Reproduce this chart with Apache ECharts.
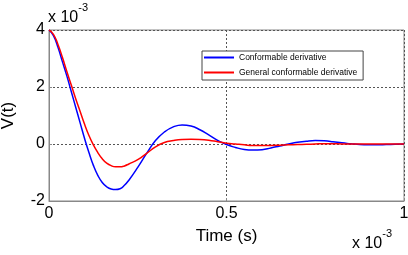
<!DOCTYPE html>
<html>
<head>
<meta charset="utf-8">
<script src="https://cdn.jsdelivr.net/npm/echarts@6/dist/echarts.min.js"></script>
<style>
  html, body { margin: 0; padding: 0; background: #fff; }
  #chart { width: 408px; height: 255px; }
</style>
</head>
<body>
<div id="chart"></div>
<script>
// time in units of 1e-3 s, voltage in units of 1e-3
var timeVals = [0, 0.0125, 0.025, 0.0375, 0.05, 0.0625, 0.075, 0.0875, 0.1, 0.1125,
  0.125, 0.1375, 0.15, 0.1625, 0.175, 0.1875, 0.2, 0.2125, 0.225, 0.25,
  0.275, 0.3, 0.325, 0.35, 0.375, 0.4, 0.425, 0.45, 0.475, 0.5,
  0.525, 0.55, 0.575, 0.6, 0.625, 0.65, 0.675, 0.7, 0.725, 0.75,
  0.775, 0.8, 0.825, 0.85, 0.875, 0.9, 0.925, 0.95, 0.975, 1.0]
var conformable = [4.0, 3.8, 3.4, 2.9, 2.4, 1.85, 1.3, 0.75, 0.2, -0.3,
  -0.75, -1.1, -1.35, -1.5, -1.58, -1.6, -1.57, -1.45, -1.27, -0.82,
  -0.33, 0.12, 0.42, 0.6, 0.67, 0.63, 0.5, 0.32, 0.13, -0.02,
  -0.12, -0.19, -0.21, -0.2, -0.14, -0.07, 0.0, 0.06, 0.1, 0.12,
  0.11, 0.08, 0.04, 0.01, -0.02, -0.03, -0.03, -0.02, -0.01, 0.0]
var general = [4.0, 3.85, 3.5, 3.05, 2.55, 2.08, 1.6, 1.15, 0.7, 0.3,
  -0.03, -0.3, -0.52, -0.67, -0.76, -0.8, -0.8, -0.77, -0.7, -0.55,
  -0.33, -0.1, 0.05, 0.12, 0.16, 0.17, 0.16, 0.13, 0.08, 0.03,
  0.0, -0.03, -0.05, -0.05, -0.05, -0.04, -0.03, -0.02, -0.01, 0.0,
  0.01, 0.01, 0.0, 0.0, 0.0, 0.0, 0.0, 0.0, 0.0, 0.0]
var seriesNames = ['Conformable derivative', 'General conformable derivative']

var font = 'Arial, "Liberation Sans", sans-serif'
var myChart = echarts.init(document.getElementById('chart'))

function pairs (ys) {
  return timeVals.map(function (t, i) { return [t, ys[i]] })
}

var dotted = { color: '#555', type: [2, 2], width: 1 }

var option = {
  animation: false,
  grid: {
    left: 49, right: 4, top: 30, bottom: 54,
    outerBoundsMode: 'none',
    containLabel: false,
    show: true, borderColor: '#888', borderWidth: 1
  },
  legend: {
    data: seriesNames,
    orient: 'vertical',
    left: 202, top: 51,
    icon: 'rect',
    itemWidth: 30, itemHeight: 2, itemGap: 6,
    padding: [2, 6, 3, 2],
    borderColor: '#444', borderWidth: 1,
    backgroundColor: '#fff',
    textStyle: { fontSize: 8.5, fontFamily: font, color: '#000' }
  },
  xAxis: {
    type: 'value', min: 0, max: 1, interval: 0.5,
    name: 'Time (s)', nameLocation: 'middle', nameGap: 27,
    nameTextStyle: { fontSize: 17, fontFamily: font, color: '#000' },
    axisLine: { show: true, onZero: false, lineStyle: { color: '#888' } },
    axisTick: { show: true, inside: true, length: 3, lineStyle: { color: '#888' } },
    axisLabel: { fontSize: 16, fontFamily: font, color: '#000', margin: 5 },
    splitLine: { show: true, lineStyle: dotted }
  },
  yAxis: {
    type: 'value', min: -2, max: 4, interval: 2,
    name: 'V(t)', nameLocation: 'middle', nameGap: 32,
    nameTextStyle: { fontSize: 17, fontFamily: font, color: '#000' },
    axisLine: { show: true, onZero: false, lineStyle: { color: '#888' } },
    axisTick: { show: true, inside: true, length: 3, lineStyle: { color: '#888' } },
    axisLabel: { fontSize: 16, fontFamily: font, color: '#000', margin: 4 },
    splitLine: { show: true, lineStyle: dotted }
  },
  graphic: [
    {
      type: 'text', left: 48, top: 2,
      style: {
        text: '{b|x 10}{s|-3}',
        rich: {
          b: { fontSize: 16, fontFamily: font, fill: '#000', padding: [8, 0, 0, 0] },
          s: { fontSize: 11, fontFamily: font, fill: '#000', verticalAlign: 'top' }
        }
      }
    },
    {
      type: 'text', left: 352, top: 228,
      style: {
        text: '{b|x 10}{s|-3}',
        rich: {
          b: { fontSize: 16, fontFamily: font, fill: '#000', padding: [8, 0, 0, 0] },
          s: { fontSize: 11, fontFamily: font, fill: '#000', verticalAlign: 'top' }
        }
      }
    }
  ],
  series: [
    {
      name: seriesNames[0], type: 'line', showSymbol: false, symbol: 'none',
      smooth: true, color: '#0000ff', lineStyle: { width: 1.5 },
      data: pairs(conformable)
    },
    {
      name: seriesNames[1], type: 'line', showSymbol: false, symbol: 'none',
      smooth: true, color: '#ff0000', lineStyle: { width: 1.5 },
      data: pairs(general)
    }
  ]
}
myChart.setOption(option)
</script>
</body>
</html>
